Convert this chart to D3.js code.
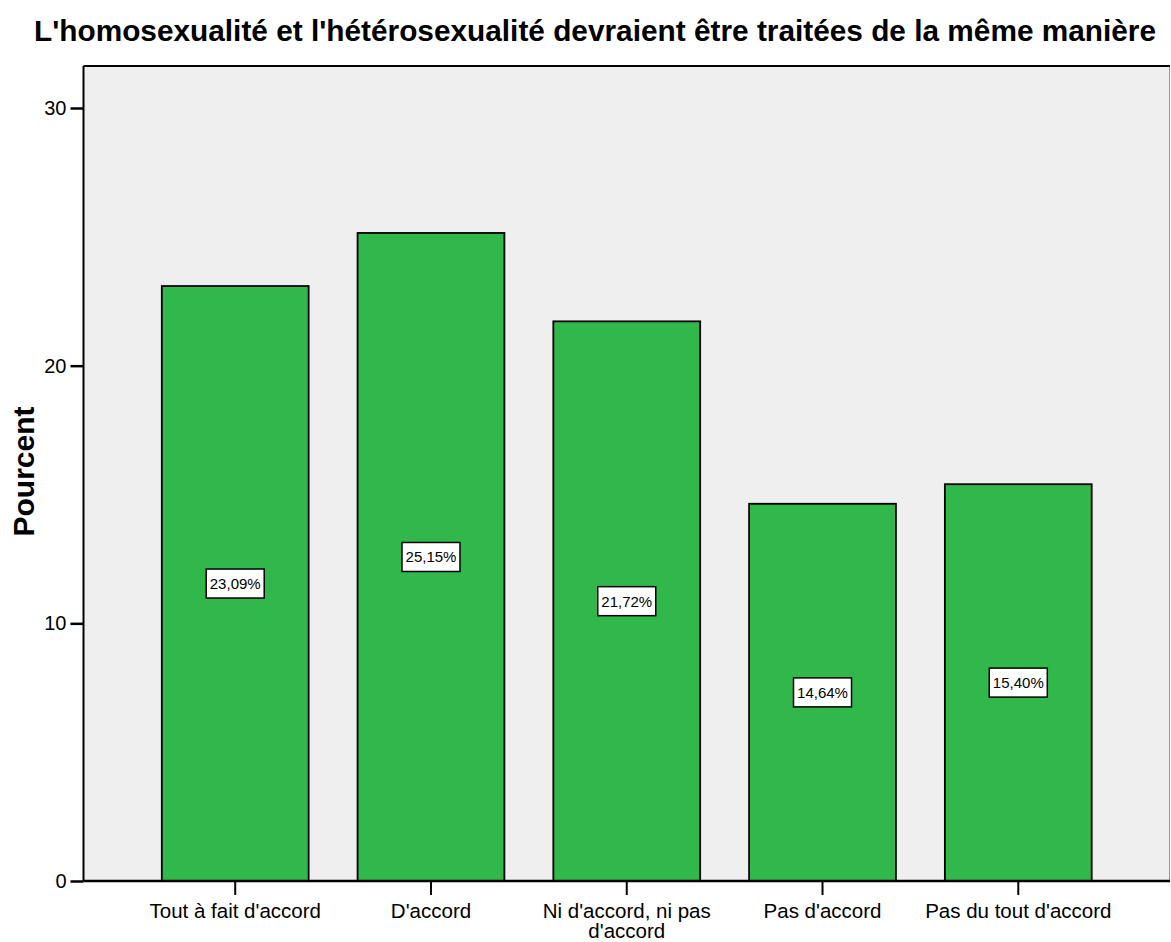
<!DOCTYPE html>
<html lang="fr">
<head>
<meta charset="UTF-8">
<title>Pourcent</title>
<script src="https://cdn.jsdelivr.net/npm/d3@7"></script>
<style>
  body { margin: 0; background: #fff; }
  text { font-family: "Liberation Sans", Arial, sans-serif; fill: #000; }
</style>
</head>
<body>
<div id="chart"></div>
<script>
// data
const categories = ["Tout à fait d'accord", "D'accord", "Ni d'accord, ni pas d'accord", "Pas d'accord", "Pas du tout d'accord"];
const percents = [23.09, 25.15, 21.72, 14.64, 15.40];
const yTicks = [0, 10, 20, 30];

const W = 1171, H = 942;
const plot = { left: 83.5, top: 66, right: 1170, bottom: 881 };

const svg = d3.select("#chart").append("svg")
    .attr("width", W)
    .attr("height", H);

const x = d3.scaleBand()
    .domain(categories)
    .range([plot.left, plot.right])
    .paddingInner(0.25)
    .paddingOuter(0.4);

const y = d3.scaleLinear()
    .domain([0, 31.63])
    .range([plot.bottom, plot.top]);

// plot background
svg.append("rect")
    .attr("x", plot.left).attr("y", plot.top)
    .attr("width", plot.right - plot.left)
    .attr("height", plot.bottom - plot.top)
    .attr("fill", "#efefef");

// right edge (grey) and top edge (black)
svg.append("line")
    .attr("x1", plot.right - 0.5).attr("x2", plot.right - 0.5)
    .attr("y1", plot.top).attr("y2", plot.bottom)
    .attr("stroke", "#999").attr("stroke-width", 1);
svg.append("line")
    .attr("x1", plot.left).attr("x2", plot.right)
    .attr("y1", plot.top).attr("y2", plot.top)
    .attr("stroke", "#000").attr("stroke-width", 2);

// bars
svg.selectAll(".bar")
    .data(percents)
    .enter()
    .append("rect")
    .attr("class", "bar")
    .attr("x", (d, i) => x(categories[i]))
    .attr("y", d => y(d))
    .attr("width", x.bandwidth())
    .attr("height", d => y(0) - y(d))
    .attr("fill", "#31b84a")
    .attr("stroke", "#000")
    .attr("stroke-width", 1.8);

// value labels in boxes at mid height
const fmt = d => d.toFixed(2).replace(".", ",") + "%";
const lab = svg.selectAll(".lab")
    .data(percents)
    .enter()
    .append("g")
    .attr("class", "lab")
    .attr("transform", (d, i) => `translate(${x(categories[i]) + x.bandwidth() / 2},${y(d / 2)})`);

lab.append("rect")
    .attr("x", -29).attr("y", -14.5)
    .attr("width", 58).attr("height", 29)
    .attr("fill", "#fff")
    .attr("stroke", "#000")
    .attr("stroke-width", 1.5);

lab.append("text")
    .attr("text-anchor", "middle")
    .attr("dy", "0.36em")
    .style("font-size", "15px")
    .text(fmt);

// y axis
const yAxis = svg.append("g")
    .attr("transform", `translate(${plot.left},0)`)
    .call(d3.axisLeft(y).tickValues(yTicks).tickSize(13).tickPadding(4).tickFormat(d3.format("d")));
yAxis.select(".domain").attr("stroke", "#000").attr("stroke-width", 2).attr("d", `M0,${plot.top}V${plot.bottom}`);
yAxis.selectAll(".tick line").attr("stroke", "#000").attr("stroke-width", 2.5);
yAxis.selectAll(".tick text").style("font-size", "20px").style("font-family", "Liberation Sans, Arial, sans-serif").attr("fill", "#000");

// x axis
const xAxis = svg.append("g")
    .attr("transform", `translate(0,${plot.bottom})`)
    .call(d3.axisBottom(x).tickSize(14).tickPadding(8));
xAxis.select(".domain").attr("stroke", "#000").attr("stroke-width", 2.5).attr("d", `M${plot.left},0H${plot.right}`);
xAxis.selectAll(".tick line").attr("stroke", "#000").attr("stroke-width", 2);
xAxis.selectAll(".tick text")
    .style("font-size", "20.5px")
    .style("font-family", "Liberation Sans, Arial, sans-serif")
    .attr("fill", "#000")
    .each(function (d) {
        const t = d3.select(this);
        if (d === "Ni d'accord, ni pas d'accord") {
            t.text(null);
            t.append("tspan").attr("x", 0).attr("dy", "0.71em").text("Ni d'accord, ni pas");
            t.append("tspan").attr("x", 0).attr("dy", "1em").text("d'accord");
        }
    });

// axis title
svg.append("text")
    .attr("transform", `translate(34,${(plot.top + plot.bottom) / 2 - 2}) rotate(-90)`)
    .attr("text-anchor", "middle")
    .style("font-size", "30px")
    .style("font-weight", "bold")
    .text("Pourcent");

// chart title
svg.append("text")
    .attr("x", 595)
    .attr("y", 41)
    .attr("text-anchor", "middle")
    .style("font-size", "29.8px")
    .style("font-weight", "bold")
    .text("L'homosexualité et l'hétérosexualité devraient être traitées de la même manière");
</script>
</body>
</html>
